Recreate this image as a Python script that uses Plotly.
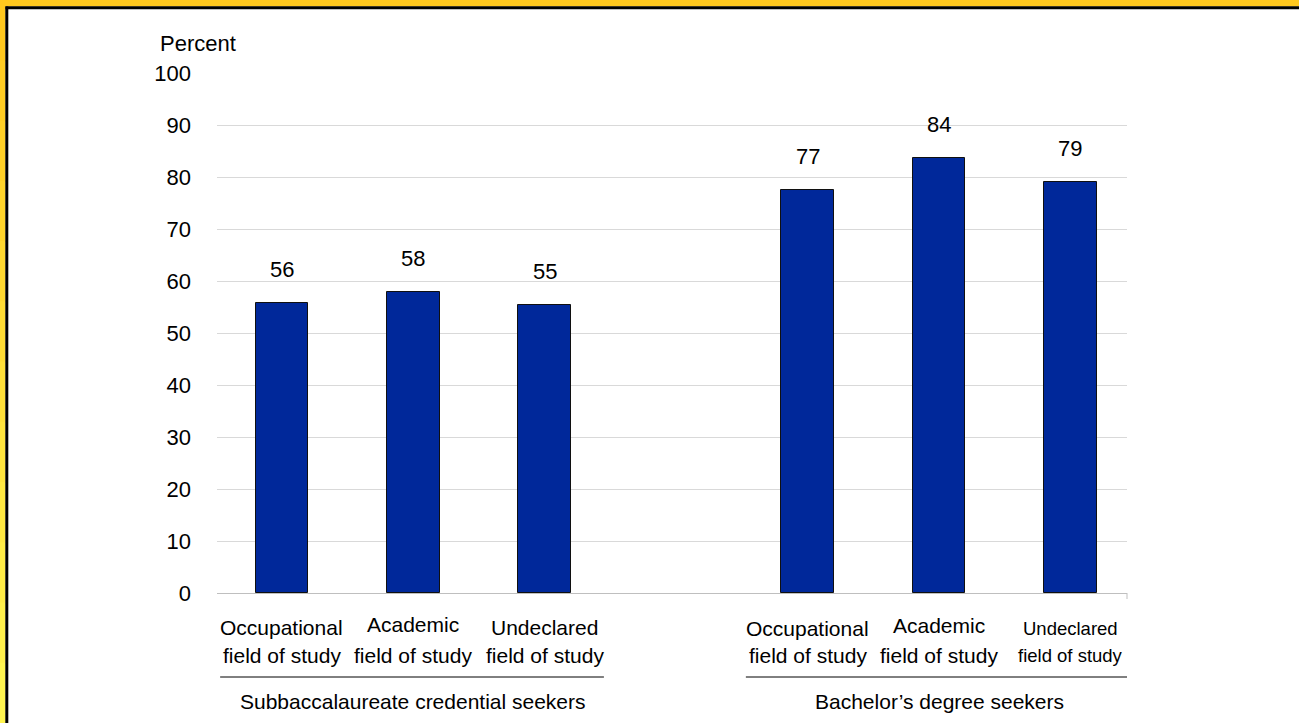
import plotly.graph_objects as go

# ---- data ----
group_names = ["Subbaccalaureate credential seekers", "Bachelor\u2019s degree seekers"]
cat_line1 = ["Occupational", "Academic", "Undeclared", "Occupational", "Academic", "Undeclared"]
cat_line2 = ["field of study"] * 6
cat_group = [0, 0, 0, 1, 1, 1]
values = [55.8, 57.8, 55.4, 77.5, 83.6, 79.1]
value_labels = ["56", "58", "55", "77", "84", "79"]
y_ticks = [0, 10, 20, 30, 40, 50, 60, 70, 80, 90, 100]

# positions: groups separated by one empty slot
xpos = [i if g == 0 else i + 1 for i, g in enumerate(cat_group)]

W, H = 1299, 723
L, R, T, B = 217, 1127, 73, 593
FONT = "Liberation Sans Narrow, Arial Narrow, Liberation Sans, Arial, sans-serif"

def px(x):
    return (x - L) / (R - L)

def py(y):
    return (B - y) / (B - T)

fig = go.Figure()
fig.add_trace(go.Bar(
    x=xpos, y=values, width=0.40,
    marker=dict(color="#00289A", line=dict(color="#101010", width=1)),
    hoverinfo="skip",
))

annotations = []
# value labels above bars
for x, v, t in zip(xpos, values, value_labels):
    annotations.append(dict(x=x, y=v, xref="x", yref="y", text=t, showarrow=False,
                            yanchor="bottom", yshift=19,
                            font=dict(size=22, color="black", family=FONT)))
# category labels
for x, a, b, g in zip(xpos, cat_line1, cat_line2, cat_group):
    small = (g == 1 and a == "Undeclared")
    fs = 18.5 if small else 21
    y1 = 624 if a == "Academic" else 627
    if g == 1:
        y1 += 1
    annotations.append(dict(x=x, y=py(y1), xref="x", yref="paper", text=a, showarrow=False,
                            yanchor="middle", font=dict(size=fs, color="black", family=FONT)))
    annotations.append(dict(x=x, y=py(655), xref="x", yref="paper", text=b, showarrow=False,
                            yanchor="middle", font=dict(size=fs, color="black", family=FONT)))
# group labels
group_centers = []
for gi, name in enumerate(group_names):
    xs = [x for x, g in zip(xpos, cat_group) if g == gi]
    c = sum(xs) / len(xs)
    group_centers.append(c)
    annotations.append(dict(x=c, y=py(701), xref="x", yref="paper", text=name, showarrow=False,
                            yanchor="middle", font=dict(size=21, color="black", family=FONT)))
# axis title
annotations.append(dict(x=px(198), y=py(44), xref="paper", yref="paper", text="Percent",
                        showarrow=False, xanchor="center", yanchor="middle",
                        font=dict(size=22, color="black", family=FONT)))

shapes = []
# group underline lines
for c in group_centers:
    shapes.append(dict(type="line", xref="x", yref="paper", x0=c - 1.47, x1=c + 1.45,
                       y0=py(677), y1=py(677), line=dict(color="black", width=1)))
# small end tick at right of x axis
shapes.append(dict(type="line", xref="paper", yref="paper", x0=1, x1=1, y0=0, y1=py(599),
                   line=dict(color="#BFBFBF", width=1)))
# frame: yellow band top & left, black inner line
shapes.append(dict(type="rect", xref="paper", yref="paper", x0=px(0), x1=px(W), y0=py(0), y1=py(6.5),
                   fillcolor="#FFC81E", line=dict(width=0), layer="above"))
n = 12
for k in range(n):
    f = k / (n - 1)
    r, g0, b0 = 255, int(0xC8 + (0xF5 - 0xC8) * f), int(0x1E + (0x50 - 0x1E) * f)
    shapes.append(dict(type="rect", xref="paper", yref="paper", x0=px(0), x1=px(5.5),
                       y0=py(H * k / n), y1=py(H * (k + 1) / n + 1),
                       fillcolor=f"rgb({r},{g0},{b0})", line=dict(width=0), layer="above"))
shapes.append(dict(type="line", xref="paper", yref="paper", x0=px(5.5), x1=px(W), y0=py(7.8), y1=py(7.8),
                   line=dict(color="black", width=3), layer="above"))
shapes.append(dict(type="line", xref="paper", yref="paper", x0=px(6.8), x1=px(6.8), y0=py(6.5), y1=py(H),
                   line=dict(color="black", width=3), layer="above"))

fig.update_layout(
    width=W, height=H,
    margin=dict(l=L, r=W - R, t=T, b=H - B, pad=0),
    paper_bgcolor="white", plot_bgcolor="white",
    showlegend=False,
    font=dict(family=FONT, color="black"),
    xaxis=dict(range=[-0.494, 6.43], showticklabels=False, ticks="", showgrid=False,
               zeroline=False, showline=True, linecolor="#BFBFBF", linewidth=1, fixedrange=True),
    yaxis=dict(range=[0, 100], tickvals=y_ticks, ticktext=[str(v) for v in y_ticks],
               showgrid=True, gridcolor="#D9D9D9", gridwidth=1, zeroline=False, showline=False,
               ticks="", ticklabelstandoff=25,
               tickfont=dict(size=22, color="black", family=FONT), fixedrange=True),
    annotations=annotations,
    shapes=shapes,
    bargap=0,
)

fig.write_html("out.html")
